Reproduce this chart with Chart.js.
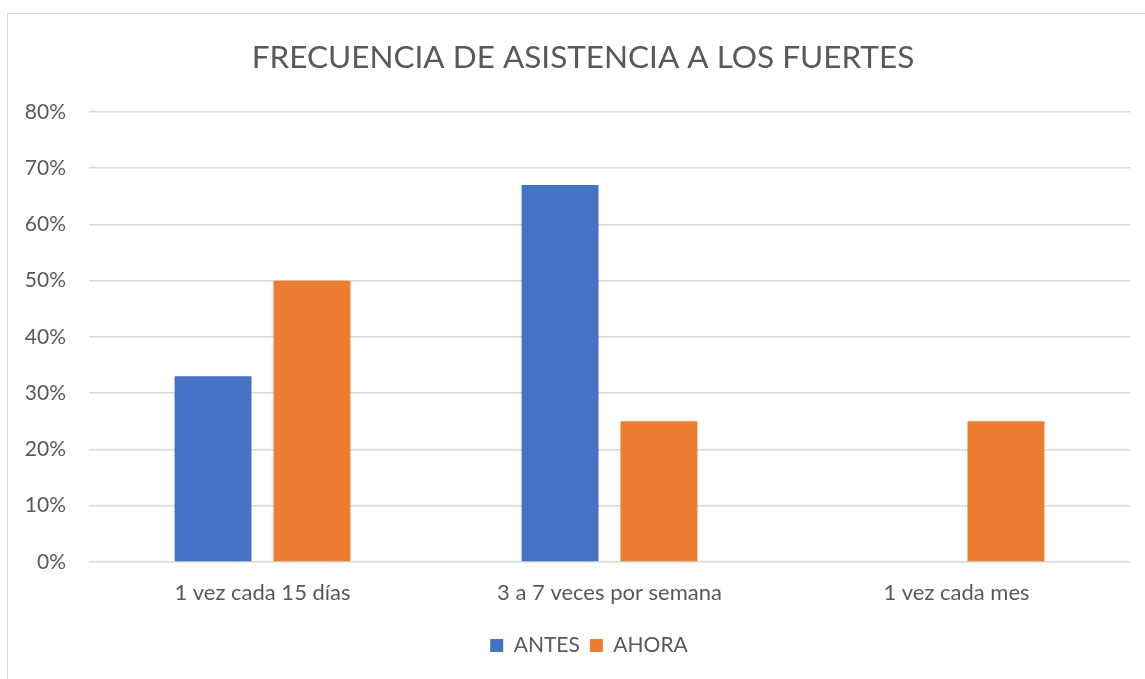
<!DOCTYPE html>
<html>
<head>
<meta charset="utf-8">
<script src="https://cdn.jsdelivr.net/npm/chart.js@4/dist/chart.umd.min.js"></script>
<style>
html,body{margin:0;padding:0;background:#fff;}
#wrap{width:1145px;height:679px;position:relative;}
</style>
</head>
<body>
<div id="wrap"><canvas id="c" width="1145" height="679"></canvas></div>
<script>
const categories = ["1 vez cada 15 días", "3 a 7 veces por semana", "1 vez cada mes"];
const antes = [33, 67, 0];
const ahora = [50, 25, 25];
const seriesNames = ["ANTES", "AHORA"];
const titleText = "FRECUENCIA DE ASISTENCIA A LOS FUERTES";

const FONT = "Lato, 'Open Sans', sans-serif";
const TXT = "#595959";

const borderPlugin = {
  id: 'borderBox',
  beforeDraw(chart) {
    const ctx = chart.ctx;
    ctx.save();
    ctx.fillStyle = '#fff';
    ctx.fillRect(0, 0, chart.width, chart.height);
    ctx.strokeStyle = '#D9D9D9';
    ctx.lineWidth = 1;
    ctx.strokeRect(7.5, 13.5, 1160, 700);
    ctx.restore();
  },
  afterLayout(chart) {
    // the original frame extends past the right edge, so centred items sit further right
    if (chart.titleBlock) { chart.titleBlock.left += 10; chart.titleBlock.right += 10; }
    if (chart.legend) { chart.legend.left += 16; chart.legend.right += 16; }
  }
};

new Chart(document.getElementById('c'), {
  type: 'bar',
  data: {
    labels: categories,
    datasets: [
      { label: seriesNames[0], data: antes, backgroundColor: '#4472C4', categoryPercentage: 0.57, barPercentage: 0.778 },
      { label: seriesNames[1], data: ahora, backgroundColor: '#ED7D31', categoryPercentage: 0.57, barPercentage: 0.778 }
    ]
  },
  options: {
    responsive: false,
    animation: false,
    devicePixelRatio: 1,
    layout: { padding: { left: 16, right: 15, top: 13, bottom: 13 } },
    plugins: {
      title: {
        display: true,
        text: titleText,
        color: TXT,
        font: { family: FONT, size: 31.5, weight: 'normal' },
        padding: { top: 26, bottom: 35 }
      },
      legend: {
        position: 'bottom',
        labels: {
          color: TXT,
          font: { family: FONT, size: 21 },
          boxWidth: 13,
          boxHeight: 13,
          padding: 10
        }
      },
      tooltip: { enabled: false }
    },
    scales: {
      x: {
        grid: { display: false, drawTicks: false },
        border: { display: false },
        ticks: { color: TXT, font: { family: FONT, size: 22 }, padding: 18 },
        afterFit(s) { s.height = 63; }
      },
      y: {
        min: 0, max: 80,
        ticks: { stepSize: 10, color: TXT, font: { family: FONT, size: 21 }, padding: 23, callback: v => v + '%' },
        grid: { color: '#D9D9D9', lineWidth: 1.5, drawTicks: false },
        border: { display: false },
        afterFit(s) { s.width = 73; }
      }
    }
  },
  plugins: [borderPlugin]
});
</script>
</body>
</html>
